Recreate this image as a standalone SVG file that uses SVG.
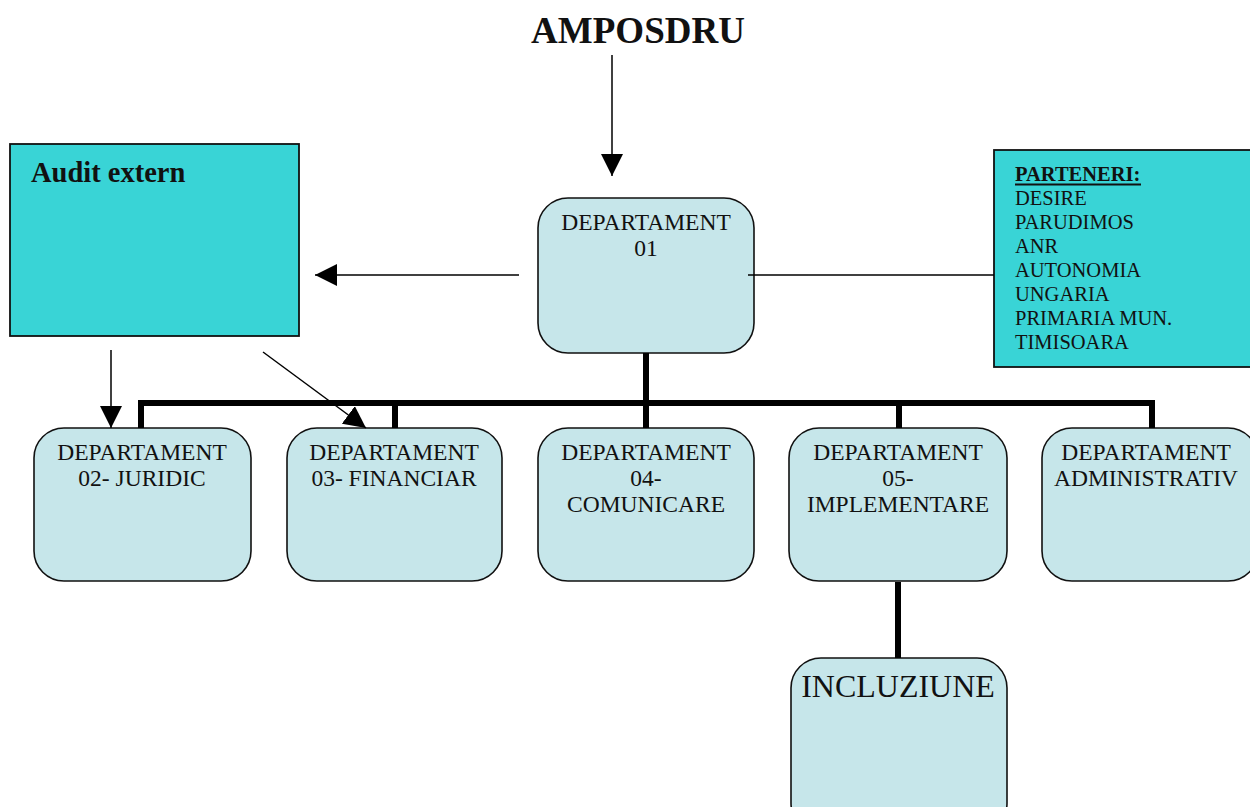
<svg xmlns="http://www.w3.org/2000/svg" width="1250" height="807" viewBox="0 0 1250 807">
<defs>
<style>
.dept{fill:#C6E6EA;stroke:#111;stroke-width:1.6}
.cyan{fill:#39D4D6;stroke:#111;stroke-width:1.8}
.t{font-family:"Liberation Serif","Times New Roman",serif;fill:#111}
.dt{font-size:23.5px;text-anchor:middle}
.thin{stroke:#000;stroke-width:1.5;fill:none}
.thick{stroke:#000;stroke-width:6;fill:none}
</style>
<marker id="ah" markerUnits="userSpaceOnUse" markerWidth="22" markerHeight="22" viewBox="0 0 22 22" refX="22" refY="11" orient="auto">
<path d="M0,0 L22,11 L0,22 Z" fill="#000"/>
</marker>
</defs>
<rect width="1250" height="807" fill="#fff"/>

<g id="title">
<text class="t" x="638" y="43" font-size="37" font-weight="bold" text-anchor="middle">AMPOSDRU</text>
</g>

<g id="audit">
<rect class="cyan" x="10" y="144" width="289" height="192"/>
<text class="t" x="31" y="182" font-size="28.5" font-weight="bold">Audit extern</text>
</g>

<g id="parteneri">
<rect class="cyan" x="994" y="150" width="262" height="217"/>
<text class="t" font-size="20.5">
<tspan x="1015" y="181" font-weight="bold">PARTENERI:</tspan>
<tspan x="1015" y="205">DESIRE</tspan>
<tspan x="1015" y="229">PARUDIMOS</tspan>
<tspan x="1015" y="253">ANR</tspan>
<tspan x="1015" y="277">AUTONOMIA</tspan>
<tspan x="1015" y="301">UNGARIA</tspan>
<tspan x="1015" y="325">PRIMARIA MUN.</tspan>
<tspan x="1015" y="349">TIMISOARA</tspan>
</text>
<line x1="1015" y1="184.5" x2="1141" y2="184.5" stroke="#111" stroke-width="1.8"/>
</g>

<g id="dept01">
<rect class="dept" x="538" y="198" width="216" height="155" rx="30"/>
<text class="t dt" x="646" y="230"><tspan x="646">DEPARTAMENT</tspan><tspan x="646" y="256">01</tspan></text>
</g>

<g id="dept02">
<rect class="dept" x="34" y="428" width="217" height="153" rx="30"/>
<text class="t dt" x="142" y="460"><tspan x="142">DEPARTAMENT</tspan><tspan x="142" y="486">02- JURIDIC</tspan></text>
</g>

<g id="dept03">
<rect class="dept" x="287" y="428" width="215" height="153" rx="30"/>
<text class="t dt" x="394" y="460"><tspan x="394">DEPARTAMENT</tspan><tspan x="394" y="486">03- FINANCIAR</tspan></text>
</g>

<g id="dept04">
<rect class="dept" x="538" y="428" width="216" height="153" rx="30"/>
<text class="t dt" x="646" y="460"><tspan x="646">DEPARTAMENT</tspan><tspan x="646" y="486">04-</tspan><tspan x="646" y="512">COMUNICARE</tspan></text>
</g>

<g id="dept05">
<rect class="dept" x="789" y="428" width="218" height="153" rx="30"/>
<text class="t dt" x="898" y="460"><tspan x="898">DEPARTAMENT</tspan><tspan x="898" y="486">05-</tspan><tspan x="898" y="512">IMPLEMENTARE</tspan></text>
</g>

<g id="deptadmin">
<rect class="dept" x="1042" y="428" width="216" height="153" rx="30"/>
<text class="t dt" x="1146" y="460"><tspan x="1146">DEPARTAMENT</tspan><tspan x="1146" y="486">ADMINISTRATIV</tspan></text>
</g>

<g id="incluziune">
<rect class="dept" x="791" y="658" width="216" height="175" rx="30"/>
<text class="t" x="898" y="697" font-size="32" text-anchor="middle">INCLUZIUNE</text>
</g>

<g id="connectors">
<line class="thin" x1="612" y1="55" x2="612" y2="176" marker-end="url(#ah)"/>
<line class="thin" x1="519" y1="275" x2="315" y2="275" marker-end="url(#ah)"/>
<line class="thin" x1="748" y1="275" x2="994" y2="275"/>
<line class="thin" x1="111" y1="350" x2="111" y2="428" marker-end="url(#ah)"/>
<line class="thin" x1="263" y1="352" x2="366" y2="428" marker-end="url(#ah)"/>
<path class="thick" d="M646,353 V403 M141,428 V403 H1152 V428 M395,403 V428 M646,403 V428 M899,403 V428 M898,582 V658"/>
</g>
</svg>
